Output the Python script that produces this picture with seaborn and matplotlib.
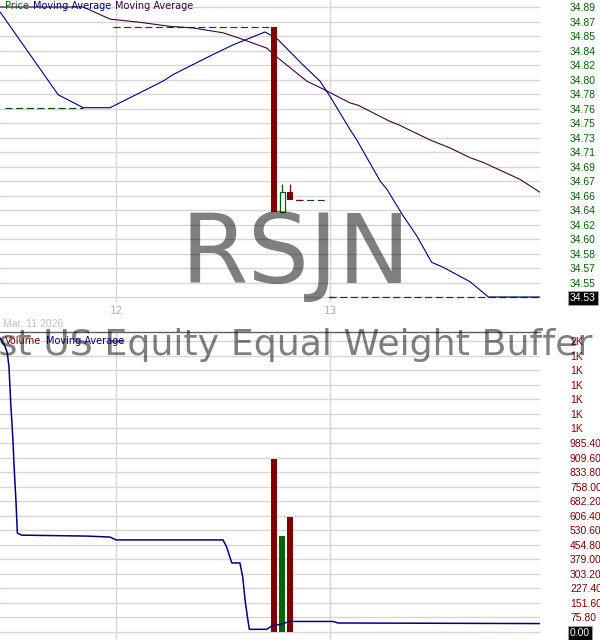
import matplotlib
matplotlib.use("Agg")
import matplotlib.pyplot as plt
import seaborn as sns
import pandas as pd

# ---------------- data ----------------
# time axis in (fractional) trading days of March 2026
fast_ma_t = [11.458, 11.730, 11.847, 11.972, 12.220, 12.266, 12.453, 12.547, 12.696,
             12.751, 12.874, 12.953, 13.000, 13.093, 13.125, 13.234, 13.265, 13.341,
             13.405, 13.475, 13.528, 13.654, 13.740, 13.995]
fast_ma_p = [34.884, 34.781, 34.765, 34.765, 34.798, 34.806, 34.831, 34.843, 34.859,
             34.851, 34.818, 34.798, 34.779, 34.738, 34.725, 34.674, 34.664, 34.631,
             34.606, 34.573, 34.567, 34.549, 34.530, 34.530]

slow_ma_t = [11.458, 11.847, 11.972, 12.112, 12.252, 12.360, 12.500, 12.579, 12.704,
             12.751, 12.891, 12.938, 12.969, 13.093, 13.132, 13.280, 13.319, 13.467,
             13.561, 13.654, 13.716, 13.888, 13.981]
slow_ma_p = [34.890, 34.890, 34.875, 34.871, 34.866, 34.864, 34.858, 34.851, 34.839,
             34.828, 34.798, 34.792, 34.788, 34.771, 34.768, 34.748, 34.744, 34.725,
             34.715, 34.703, 34.697, 34.676, 34.660]

price_seg_start = [11.481, 11.986, 12.841, 12.995]
price_seg_end = [11.846, 12.720, 12.986, 13.995]
price_seg_value = [34.765, 34.865, 34.650, 34.530]
price_seg_first_red = [False, False, True, True]

candle_t = [12.738, 12.776, 12.813]
candle_open = [34.865, 34.636, 34.660]
candle_close = [34.636, 34.660, 34.650]
candle_high = [34.865, 34.670, 34.670]
candle_low = [34.636, 34.636, 34.650]
volume = [902, 500, 600]

vol_ma_t = [11.458, 11.481, 11.492, 11.500, 11.509, 11.515, 11.520, 11.523, 11.528,
            11.533, 11.539, 11.559, 11.863, 11.972, 12.000, 12.500, 12.517, 12.541,
            12.579, 12.592, 12.603, 12.614, 12.623, 12.704, 12.728, 12.766, 12.813,
            13.014, 13.037, 13.981]
vol_ma_v = [1533, 1491, 1455, 1382, 1173, 1069, 965, 881, 777,
            673, 516, 505, 500, 495, 480, 480, 443, 360,
            360, 287, 167, 78, 14, 14, 31, 40, 55,
            55, 47, 44]

price_ticks = [34.530, 34.548, 34.566, 34.584, 34.602, 34.620, 34.638, 34.656, 34.674,
               34.692, 34.710, 34.728, 34.746, 34.764, 34.782, 34.800, 34.818, 34.836,
               34.854, 34.872, 34.890]
price_labels = ["34.53", "34.55", "34.57", "34.58", "34.60", "34.62", "34.64", "34.66",
                "34.67", "34.69", "34.71", "34.73", "34.75", "34.76", "34.78", "34.80",
                "34.82", "34.84", "34.85", "34.87", "34.89"]
vol_ticks = [0, 75.8, 151.6, 227.4, 303.2, 379.0, 454.8, 530.6, 606.4, 682.2, 758.0,
             833.8, 909.6, 985.4, 1061.2, 1137.0, 1212.8, 1288.6, 1364.4, 1440.2, 1516.0]
vol_labels = ["0.00", "75.80", "151.60", "227.40", "303.20", "379.00", "454.80",
              "530.60", "606.40", "682.20", "758.00", "833.80", "909.60", "985.40",
              "1K", "1K", "1K", "1K", "1K", "1K", "2K"]
day_ticks = [12, 13]
day_labels = ["12", "13"]

ticker = "RSJN"
fund_name = "FT Vest US Equity Equal Weight Buffer ETF - June"
start_label = "Mar, 11 2026"

# ---------------- style ----------------
sns.set_style("white")
plt.rcParams['font.family'] = ['DejaVu Sans']

RED = '#800000'
GREEN = '#006400'
DASHGREEN = '#004d00'
NAVY = '#000080'
PURPLE = '#400040'
GRID = '#d6d6d6'

W, H = 600, 640
fig = plt.figure(figsize=(6, 6.4), dpi=100)
ax1 = fig.add_axes([0, 1 - 302 / H, 540 / W, 302 / H])
ax2 = fig.add_axes([0, 0, 540 / W, 308 / H])

xlim = (11.458, 13.981)
bar_w = 0.028

# ---------- price panel ----------
ax1.set_xlim(*xlim)
ax1.set_ylim(34.5238, 34.8987)
ax1.set_yticks(price_ticks)
ax1.set_yticklabels(price_labels)
ax1.set_xticks(day_ticks)
ax1.set_xticklabels(day_labels)
ax1.yaxis.tick_right()
ax1.grid(True, color=GRID, lw=1.0, zorder=0)
ax1.set_axisbelow(True)
for s in ax1.spines.values():
    s.set_visible(False)
ax1.tick_params(axis='y', length=0, pad=21.6, labelcolor=GREEN, labelsize=7.5)
ax1.tick_params(axis='x', length=0, pad=3, labelcolor='#b0b0b0', labelsize=7.5)
for lab in ax1.get_yticklabels():
    lab.set_fontfamily('Liberation Sans')
lab0 = ax1.get_yticklabels()[0]
lab0.set_color('white')
lab0.set_bbox(dict(facecolor='black', edgecolor='#a0a0a0', pad=1.2, lw=0.8))

sns.lineplot(x=slow_ma_t, y=slow_ma_p, ax=ax1, color=PURPLE, lw=0.8,
             estimator=None, sort=False, zorder=3)
sns.lineplot(x=fast_ma_t, y=fast_ma_p, ax=ax1, color=NAVY, lw=0.8,
             estimator=None, sort=False, zorder=3)

for s0, s1, v, fr in zip(price_seg_start, price_seg_end, price_seg_value, price_seg_first_red):
    ax1.plot([s0, s1], [v, v], color=DASHGREEN, lw=0.85, linestyle=(0, (6.0, 3.0)), zorder=2)
    if fr:
        ax1.plot([s0, s0 + 0.025], [v, v], color=RED, lw=0.9, zorder=2.5)

for t, o, c, hi, lo in zip(candle_t, candle_open, candle_close, candle_high, candle_low):
    top = max(o, c)
    bot = min(o, c)
    ax1.vlines(t, top, hi, color=GREEN if c >= o else RED, lw=0.9, zorder=4)
    if c >= o:
        ax1.bar(t, top - bot, bottom=bot, width=bar_w * 0.85, facecolor='white',
                edgecolor=GREEN, lw=0.9, zorder=5)
    else:
        ax1.bar(t, top - bot, bottom=bot, width=bar_w, color=RED, lw=0, zorder=5)

# ---------- volume panel ----------
ax2.set_xlim(*xlim)
ax2.set_ylim(-41.7, 1564)
ax2.set_yticks(vol_ticks)
ax2.set_yticklabels(vol_labels)
ax2.set_xticks(day_ticks)
ax2.set_xticklabels([])
ax2.yaxis.tick_right()
ax2.grid(True, color=GRID, lw=1.0, zorder=0)
ax2.set_axisbelow(True)
for name, s in ax2.spines.items():
    s.set_visible(name == 'top')
ax2.spines['top'].set_color('#606060')
ax2.spines['top'].set_linewidth(1.0)
ax2.tick_params(axis='y', length=0, pad=21.6, labelcolor=RED, labelsize=7.5)
ax2.tick_params(axis='x', length=0)
for lab in ax2.get_yticklabels():
    lab.set_fontfamily('Liberation Sans')
v0 = ax2.get_yticklabels()[0]
v0.set_color('white')
v0.set_bbox(dict(facecolor='black', edgecolor='#a0a0a0', pad=1.2, lw=0.8))

vol_df = pd.DataFrame({'t': candle_t, 'v': volume,
                       'up': [c >= o for o, c in zip(candle_open, candle_close)]})
for _, r in vol_df.iterrows():
    ax2.bar(r['t'], r['v'], width=bar_w, color=GREEN if r['up'] else RED, lw=0, zorder=3)

sns.lineplot(x=vol_ma_t, y=vol_ma_v, ax=ax2, color=NAVY, lw=1.1,
             estimator=None, sort=False, zorder=4)
ax1.set_xlabel('')
ax1.set_ylabel('')
ax2.set_xlabel('')
ax2.set_ylabel('')

# ---------- texts ----------
def fx(px):
    return px / W

def fy(py):
    return 1 - py / H

fig.text(fx(295.5), fy(283), ticker, ha='center', va='baseline', fontsize=70,
         color='black', alpha=0.5, zorder=1)
fig.text(fx(-100), fy(355), fund_name, ha='left', va='baseline', fontsize=26.2,
         color='black', alpha=0.5, zorder=1)

fig.text(fx(5), fy(6), "Price", color=GREEN, fontsize=7, va='center')
fig.text(fx(33), fy(6), "Moving Average", color=NAVY, fontsize=7, va='center')
fig.text(fx(115), fy(6), "Moving Average", color=PURPLE, fontsize=7, va='center')
fig.text(fx(5), fy(341), "Volume", color=RED, fontsize=7, va='center')
fig.text(fx(46), fy(341), "Moving Average", color=NAVY, fontsize=7, va='center')
fig.text(fx(3), fy(323), start_label, color='#c0c0c0', fontsize=7.5, va='center',
         fontfamily='Liberation Sans')

fig.savefig("out.png", dpi=100)
